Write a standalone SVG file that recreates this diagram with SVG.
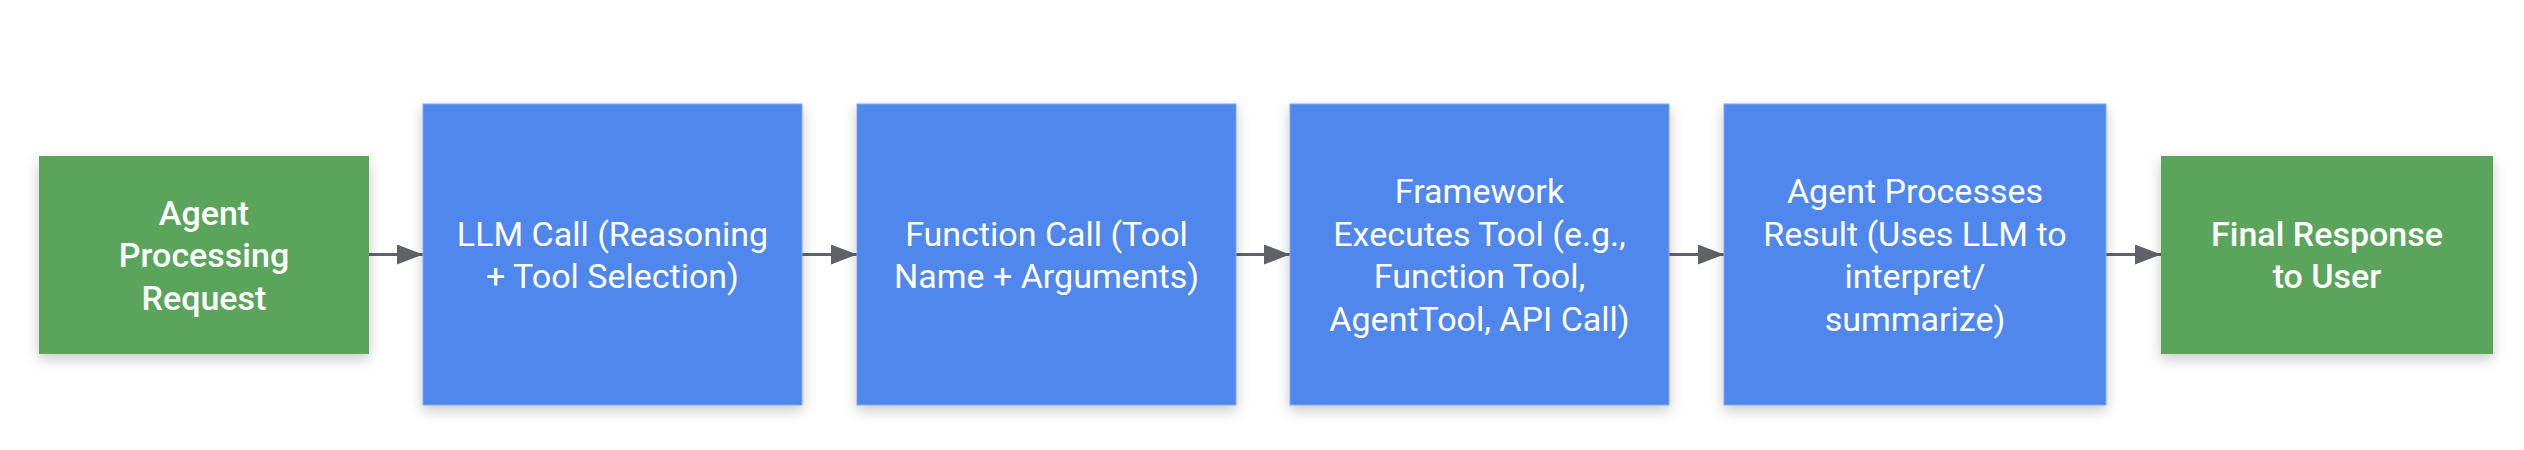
<svg xmlns="http://www.w3.org/2000/svg" width="2524" height="450" viewBox="0 0 2524 450">
  <defs>
    <filter id="shadow" x="-20%" y="-20%" width="140%" height="150%">
      <feDropShadow dx="0" dy="5" stdDeviation="7" flood-color="#000000" flood-opacity="0.22"/>
    </filter>
    <marker id="arrow" markerUnits="userSpaceOnUse" markerWidth="26" markerHeight="20" refX="26" refY="10" orient="auto">
      <path d="M0,0 L26,10 L0,20 Z" fill="#5f6368"/>
    </marker>
    <style>
      .blue { fill: #5087ec; stroke: #7ea6f1; stroke-width: 1; filter: url(#shadow); }
      .green { fill: #5aa45b; filter: url(#shadow); }
      .lbl { font-family: Roboto, "Liberation Sans", sans-serif; font-size: 34px; fill: #ffffff; text-anchor: middle; }
      .bold { font-weight: 500; }
      .edge { stroke: #5f6368; stroke-width: 3; fill: none; marker-end: url(#arrow); }
    </style>
  </defs>
  <rect width="2524" height="450" fill="#ffffff"/>
  <g id="connectors">
    <line class="edge" x1="369" y1="254.5" x2="423" y2="254.5"/>
    <line class="edge" x1="802" y1="254.5" x2="857" y2="254.5"/>
    <line class="edge" x1="1236" y1="254.5" x2="1290" y2="254.5"/>
    <line class="edge" x1="1669" y1="254.5" x2="1724" y2="254.5"/>
    <line class="edge" x1="2106" y1="254.5" x2="2161" y2="254.5"/>
  </g>
  <g id="agent-request">
    <rect class="green" x="39" y="156" width="330" height="198"/>
    <text class="lbl bold" x="204" y="224.5">Agent</text>
    <text class="lbl bold" x="204" y="267">Processing</text>
    <text class="lbl bold" x="204" y="309.5">Request</text>
  </g>
  <g id="llm-call">
    <rect class="blue" x="423" y="104" width="379" height="301"/>
    <text class="lbl" x="612.5" y="245.75">LLM Call (Reasoning</text>
    <text class="lbl" x="612.5" y="288.25">+ Tool Selection)</text>
  </g>
  <g id="function-call">
    <rect class="blue" x="857" y="104" width="379" height="301"/>
    <text class="lbl" x="1046.5" y="245.75">Function Call (Tool</text>
    <text class="lbl" x="1046.5" y="288.25">Name + Arguments)</text>
  </g>
  <g id="framework-executes">
    <rect class="blue" x="1290" y="104" width="379" height="301"/>
    <text class="lbl" x="1479.5" y="203.25">Framework</text>
    <text class="lbl" x="1479.5" y="245.75">Executes Tool (e.g.,</text>
    <text class="lbl" x="1479.5" y="288.25">Function Tool,</text>
    <text class="lbl" x="1479.5" y="330.75">AgentTool, API Call)</text>
  </g>
  <g id="agent-processes-result">
    <rect class="blue" x="1724" y="104" width="382" height="301"/>
    <text class="lbl" x="1915" y="203.25">Agent Processes</text>
    <text class="lbl" x="1915" y="245.75">Result (Uses LLM to</text>
    <text class="lbl" x="1915" y="288.25">interpret/</text>
    <text class="lbl" x="1915" y="330.75">summarize)</text>
  </g>
  <g id="final-response">
    <rect class="green" x="2161" y="156" width="332" height="198"/>
    <text class="lbl bold" x="2327" y="245.75">Final Response</text>
    <text class="lbl bold" x="2327" y="288.25">to User</text>
  </g>
</svg>
